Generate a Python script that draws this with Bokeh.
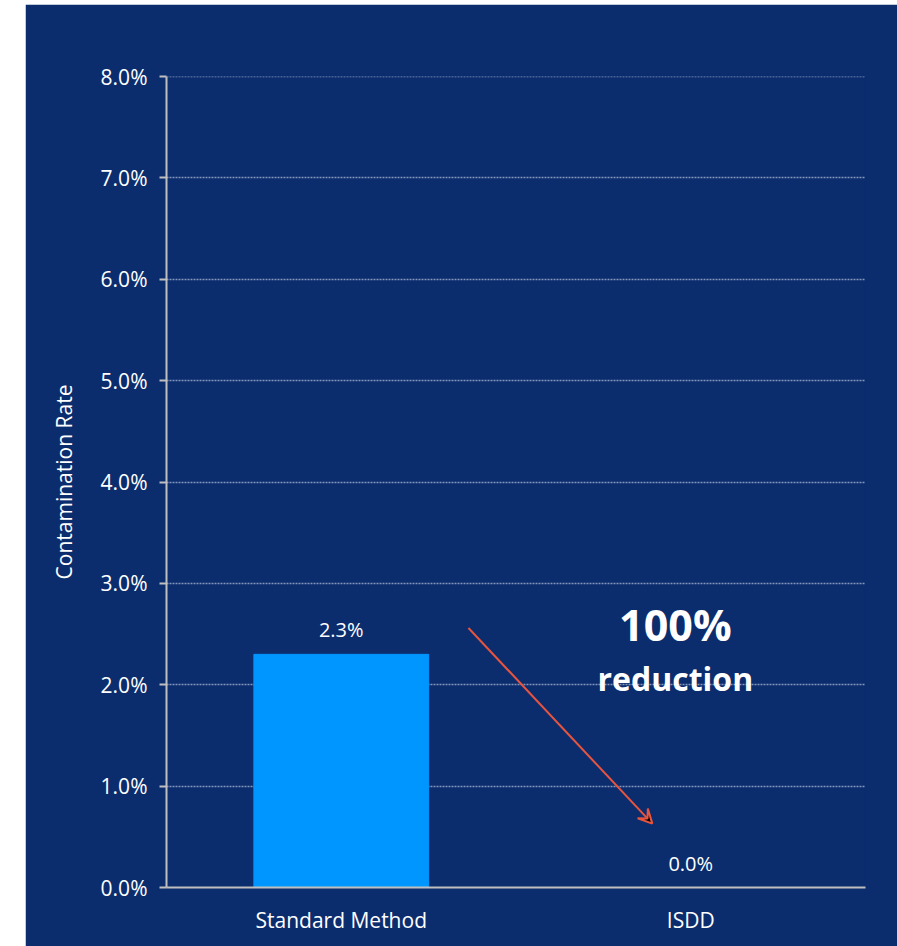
from bokeh.plotting import figure
from bokeh.models import Range1d, FixedTicker, NumeralTickFormatter, ColumnDataSource, Arrow, VeeHead, Label, Span
from bokeh.core.properties import value
from bokeh.embed import file_html
from bokeh.resources import INLINE

categories = ["Standard Method", "ISDD"]
rates = [0.023, 0.0]
rate_labels = ["2.3%", "0.0%"]
y_ticks = [0.0, 0.01, 0.02, 0.03, 0.04, 0.05, 0.06, 0.07, 0.08]
headline = "100%"
subline = "reduction"
y_title = "Contamination Rate"

FONT = "Open Sans"
BG = "#0B2D6E"
WHITE = "#FFFFFF"
GRID = "#8595BA"

xs = [i + 0.5 for i in range(len(categories))]
src = ColumnDataSource(dict(x=xs, top=rates, label=rate_labels))

p = figure(width=872, height=942, output_backend="svg", toolbar_location=None,
           x_range=Range1d(0, len(categories)), y_range=Range1d(0, 0.08),
           min_border_left=141, min_border_right=32, min_border_top=72, min_border_bottom=59)
p.margin = (4, 0, 0, 25)
p.background_fill_color = BG
p.border_fill_color = BG
p.outline_line_color = BG
p.outline_line_width = 2

p.vbar(x="x", top="top", width=0.5, bottom=0, source=src, color="#0096FF")
p.text(x="x", y="top", text="label", source=src, text_align="center", text_baseline="bottom",
       y_offset=-11, text_color=WHITE, text_font=value(FONT), text_font_size="20px")

# axes
p.xaxis.ticker = FixedTicker(ticks=xs)
p.xaxis.major_label_overrides = {x: c for x, c in zip(xs, categories)}
p.xaxis.major_tick_line_color = None
p.xaxis.minor_tick_line_color = None
p.xaxis.axis_line_color = "#BFBFBF"
p.xaxis.axis_line_width = 2
p.xaxis.major_label_text_color = WHITE
p.xaxis.major_label_text_font = FONT
p.xaxis.major_label_text_font_size = "21px"
p.xaxis.major_label_standoff = 12

p.yaxis.ticker = FixedTicker(ticks=y_ticks)
p.yaxis.formatter = NumeralTickFormatter(format="0.0%")
p.yaxis.minor_tick_line_color = None
p.yaxis.major_tick_out = 7
p.yaxis.major_tick_in = 0
p.yaxis.major_tick_line_color = "#BFBFBF"
p.yaxis.major_tick_line_width = 2
p.yaxis.axis_line_color = "#BFBFBF"
p.yaxis.axis_line_width = 2
p.yaxis.major_label_text_color = WHITE
p.yaxis.major_label_text_font = FONT
p.yaxis.major_label_text_font_size = "21px"
p.yaxis.major_label_standoff = 12
p.yaxis.axis_label = y_title
p.yaxis.axis_label_text_color = WHITE
p.yaxis.axis_label_text_font = FONT
p.yaxis.axis_label_text_font_size = "21px"
p.yaxis.axis_label_text_font_style = "normal"
p.yaxis.axis_label_standoff = 20

p.xgrid.grid_line_color = None
p.ygrid.grid_line_color = GRID
p.ygrid.grid_line_dash = "2 1"
p.ygrid.grid_line_width = 1.5

# top gridline (drawn over the frame outline)
p.add_layout(Span(location=y_ticks[-1], dimension="width", line_color=GRID,
                  line_dash="2 1", line_width=1.5))

# annotation arrow
ARROW_START = (0.864, 0.0256)
ARROW_END = (1.39, 0.0063)
p.add_layout(Arrow(x_start=ARROW_START[0], y_start=ARROW_START[1], x_end=ARROW_END[0], y_end=ARROW_END[1],
                   line_color="#E8553F", line_width=2,
                   end=VeeHead(size=14, line_color="#E8553F", line_width=2)))

p.add_layout(Label(x=1.456, y=0.0259, text=headline, text_align="center", text_baseline="middle",
                   text_color=WHITE, text_font=FONT, text_font_style="bold", text_font_size="43px"))
p.add_layout(Label(x=1.456, y=0.0206, text=subline, text_align="center", text_baseline="middle",
                   text_color=WHITE, text_font=FONT, text_font_style="bold", text_font_size="32px"))

open("out.html", "w").write(file_html(p, INLINE))
